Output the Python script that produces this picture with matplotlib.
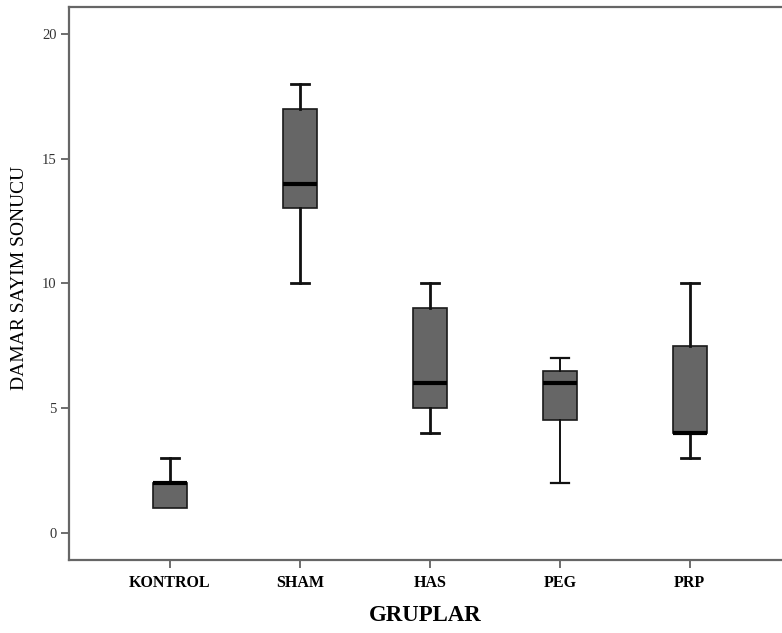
import matplotlib
matplotlib.use("Agg")
import matplotlib.pyplot as plt

# group names and box-plot summary values
groups = ["KONTROL", "SHAM", "HAS", "PEG", "PRP"]
whisker_low = [1, 10, 4, 2, 3]
q1 = [1, 13, 5, 4.5, 4]
median = [2, 14, 6, 6, 4]
q3 = [2, 17, 9, 6.5, 7.5]
whisker_high = [3, 18, 10, 7, 10]
y_ticks = [0, 5, 10, 15, 20]

plt.rcParams['font.family'] = ['Liberation Serif', 'DejaVu Serif']

stats = []
for i in range(len(groups)):
    stats.append({
        "label": groups[i],
        "whislo": whisker_low[i],
        "q1": q1[i],
        "med": median[i],
        "q3": q3[i],
        "whishi": whisker_high[i],
        "fliers": [],
    })

fig = plt.figure(figsize=(7.82, 6.33), dpi=100)
ax = fig.add_axes([69 / 782, 1 - 560 / 633, 1 - 69 / 782, 553 / 633])

parts = ax.bxp(stats, positions=range(1, len(groups) + 1), widths=0.26,
               capwidths=0.14, patch_artist=True, showfliers=False,
               boxprops=dict(facecolor="#666666", edgecolor="#1a1a1a", linewidth=1.2),
               whiskerprops=dict(color="#111111", linewidth=2),
               capprops=dict(color="#111111", linewidth=2),
               medianprops=dict(color="#000000", linewidth=3))

# no whisker/cap where the whisker collapses onto the box edge
for i in range(len(groups)):
    if whisker_low[i] == q1[i]:
        parts["caps"][2 * i].set_visible(False)
        parts["whiskers"][2 * i].set_visible(False)
    if whisker_high[i] == q3[i]:
        parts["caps"][2 * i + 1].set_visible(False)
        parts["whiskers"][2 * i + 1].set_visible(False)

# PEG whiskers are drawn thinner in the original
for k in (6, 7):
    parts["whiskers"][k].set_linewidth(1.4)
    parts["caps"][k].set_linewidth(1.6)

ax.set_xlim(0.223, 5.71)
ax.set_ylim(-1.1, 21.08)
ax.set_yticks(y_ticks)
ax.set_yticklabels([str(t) for t in y_ticks], fontsize=10.5, color="#333333")
ax.set_xticklabels(groups, fontsize=11.5, fontweight="bold")

for side in ["left", "bottom", "top"]:
    ax.spines[side].set_color("#666666")
    ax.spines[side].set_linewidth(1.6)
ax.spines["right"].set_visible(False)
ax.tick_params(axis="both", direction="out", length=6, width=1.2, color="#555555")
ax.tick_params(axis="x", pad=5)
ax.tick_params(axis="y", pad=3)

ax.set_ylabel("DAMAR SAYIM SONUCU", fontsize=14)
ax.yaxis.set_label_coords(-0.058, 0.51)
ax.set_xlabel("GRUPLAR", fontsize=16.5, fontweight="bold", labelpad=10)

fig.savefig("out.png", dpi=100)
